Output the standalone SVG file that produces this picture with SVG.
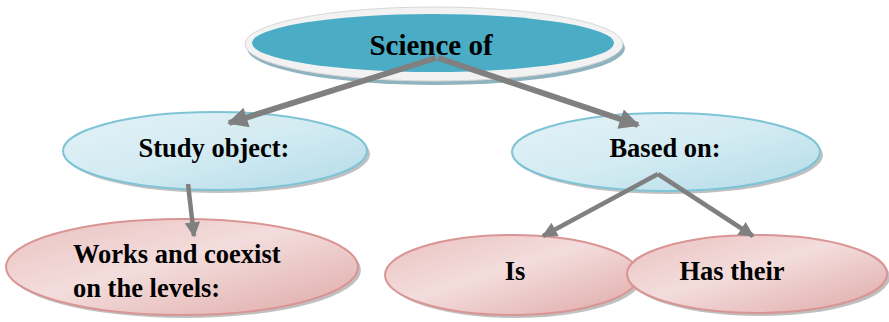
<svg xmlns="http://www.w3.org/2000/svg" width="889" height="322" viewBox="0 0 889 322">
<style>
text{font-family:'Liberation Serif',Tinos,'Times New Roman','DejaVu Serif',serif;font-weight:bold;fill:#000}
.blue{fill:url(#gb);stroke:#7fc4d6;stroke-width:2}
.pink{fill:url(#gp);stroke:#d99594;stroke-width:2}
.sh{fill:#8c8c8c;opacity:0.55}
.c{stroke:#808080;fill:none}
</style>
<defs>
<linearGradient id="gb" x1="0" y1="0" x2="1" y2="1">
<stop offset="0" stop-color="#e3f2f7"/><stop offset="0.5" stop-color="#d3ebf2"/><stop offset="1" stop-color="#b2dbe7"/>
</linearGradient>
<linearGradient id="gp" x1="0" y1="0" x2="1" y2="1">
<stop offset="0" stop-color="#e9c1c0"/><stop offset="0.45" stop-color="#f3dddc"/><stop offset="1" stop-color="#dfa9a8"/>
</linearGradient>
<marker id="ah" viewBox="0 0 10 10" refX="9" refY="5" markerWidth="3.6" markerHeight="3.4" orient="auto" markerUnits="strokeWidth">
<path d="M0,0 L10,5 L0,10 z" fill="#808080"/>
</marker>
</defs>
<g id="n-science">
<ellipse cx="436" cy="48" rx="189" ry="37" fill="#8fb3bf"/>
<ellipse cx="434" cy="44" rx="189" ry="37" fill="#f2f2f2" stroke="#d8d8d8" stroke-width="1"/>
<ellipse cx="433" cy="43" rx="181" ry="29" fill="#4bacc6"/>
<text x="431" y="55" font-size="29" text-anchor="middle" font-family="Liberation Serif, Tinos, DejaVu Serif, serif">Science of</text>
</g>
<g id="n-study">
<ellipse class="sh" cx="218" cy="154" rx="152" ry="39"/>
<ellipse class="blue" cx="215" cy="151" rx="152" ry="39"/>
<text x="214" y="157" font-size="26.5" text-anchor="middle">Study object:</text>
</g>
<g id="n-based">
<ellipse class="sh" cx="669" cy="155" rx="154" ry="39"/>
<ellipse class="blue" cx="666" cy="152" rx="154" ry="39"/>
<text x="665" y="157" font-size="26.5" text-anchor="middle">Based on:</text>
</g>
<g id="n-works">
<ellipse class="sh" cx="185" cy="270" rx="176" ry="48"/>
<ellipse class="pink" cx="182" cy="267" rx="176" ry="48"/>
<text x="73" y="263" font-size="26.5">Works and coexist</text>
<text x="73" y="297" font-size="26.5">on the levels:</text>
</g>
<g id="n-is">
<ellipse class="sh" cx="515" cy="278" rx="127" ry="40"/>
<ellipse class="pink" cx="512" cy="275" rx="127" ry="40"/>
<text x="515" y="280" font-size="26.5" text-anchor="middle">Is</text>
</g>
<g id="n-has">
<ellipse class="sh" cx="760" cy="277" rx="130" ry="39"/>
<ellipse class="pink" cx="757" cy="274" rx="130" ry="39"/>
<text x="732" y="280" font-size="26.5" text-anchor="middle">Has their</text>
</g>
<g id="connectors">
<line class="c" x1="436" y1="58" x2="229" y2="123" stroke-width="6" marker-end="url(#ah)"/>
<line class="c" x1="438" y1="58" x2="638" y2="125" stroke-width="6" marker-end="url(#ah)"/>
<line class="c" x1="188" y1="184" x2="194" y2="236" stroke-width="4.5" marker-end="url(#ah)"/>
<line class="c" x1="658" y1="174" x2="543" y2="236" stroke-width="4.5" marker-end="url(#ah)"/>
<line class="c" x1="658" y1="174" x2="753" y2="236" stroke-width="4.5" marker-end="url(#ah)"/>
</g>
</svg>
